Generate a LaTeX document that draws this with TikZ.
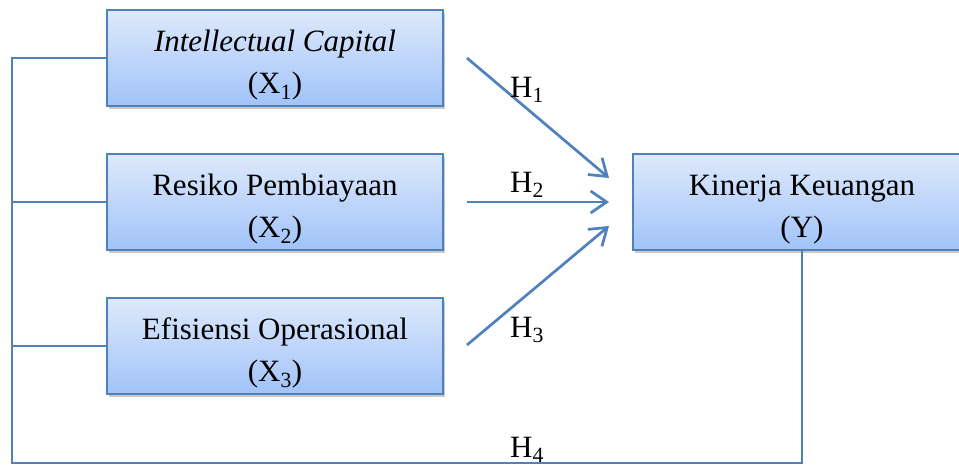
\documentclass[tikz,border=0pt]{standalone}
\usepackage{fontspec}
\setmainfont{Liberation Serif}
\usetikzlibrary{arrows.meta,shadows}
\definecolor{edge}{RGB}{79,129,189}
\definecolor{boxtop}{RGB}{222,233,251}
\definecolor{boxbot}{RGB}{160,195,249}
\newcommand\boxlift{\rule{0pt}{36pt}}
\tikzset{
  varbox/.style={draw=edge, line width=2pt, top color=boxtop, bottom color=boxbot,
    minimum height=96pt, inner sep=0pt, align=center,
    font=\fontsize{31}{42}\selectfont,
    drop shadow={shadow xshift=2pt, shadow yshift=-3pt, opacity=0.35, fill=black!60}},
  conn/.style={draw=edge, line width=2.7pt},
  arr/.style={conn, -{Straight Barb[length=16pt,width=22pt]}},
  hlab/.style={anchor=base west, inner sep=0pt, font=\fontsize{31}{38}\selectfont}
}
\begin{document}
\begin{tikzpicture}[x=1pt,y=-1pt]
\useasboundingbox (0,0) rectangle (959,466);
\clip (0,0) rectangle (959,466);
\fill[white] (0,0) rectangle (959,466);
\node[varbox, minimum width=336pt] (X1) at (275,58) {\boxlift\textit{Intellectual Capital}\\(X\textsubscript{1})};
\node[varbox, minimum width=336pt] (X2) at (275,202) {\boxlift Resiko Pembiayaan\\(X\textsubscript{2})};
\node[varbox, minimum width=336pt] (X3) at (275,346) {\boxlift Efisiensi Operasional\\(X\textsubscript{3})};
\node[varbox, minimum width=338pt] (Y) at (802,202) {\boxlift Kinerja Keuangan\\(Y)};
\coordinate (S1) at (467,58);
\coordinate (S2) at (467,202);
\coordinate (S3) at (467,345);
\coordinate (E1) at (609,178);
\coordinate (E2) at (609,202);
\coordinate (E3) at (609,226);
\coordinate (L1) at (12,58);
\coordinate (L2) at (12,202);
\coordinate (L3) at (12,346);
\coordinate (L4) at (12,463);
\draw[arr] (S1) -- (E1);
\draw[arr] (S2) -- (E2);
\draw[arr] (S3) -- (E3);
\draw[conn] (X1.west) -- (L1) -- (L4) -| (Y.south);
\draw[conn] (X2.west) -- (L2);
\draw[conn] (X3.west) -- (L3);
\node[hlab] (H1) at (510,97) {H\textsubscript{1}};
\node[hlab] (H2) at (510,192) {H\textsubscript{2}};
\node[hlab] (H3) at (510,337) {H\textsubscript{3}};
\node[hlab] (H4) at (510,457) {H\textsubscript{4}};
\end{tikzpicture}
\end{document}
